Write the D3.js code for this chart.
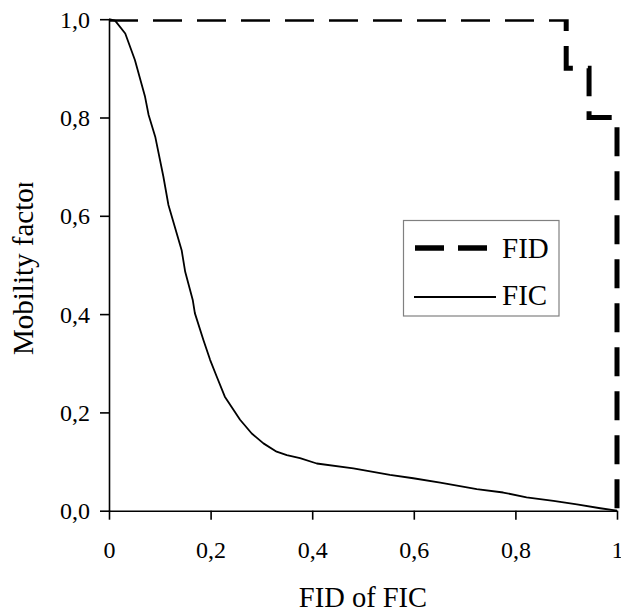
<!DOCTYPE html>
<html>
<head>
<meta charset="utf-8">
<script src="https://cdn.jsdelivr.net/npm/d3@7"></script>
<style>
  html, body { margin: 0; padding: 0; background: #fff; }
  svg { display: block; }
</style>
</head>
<body>
<svg id="chart" width="621" height="614"></svg>
<script>
// ---- data ----
const xTicks = [0, 0.2, 0.4, 0.6, 0.8, 1];
const xTickLabels = ["0", "0,2", "0,4", "0,6", "0,8", "1"];
const yTicks = [0, 0.2, 0.4, 0.6, 0.8, 1.0];
const yTickLabels = ["0,0", "0,2", "0,4", "0,6", "0,8", "1,0"];

const fidX = [0, 0.9, 0.9, 0.945, 0.945, 1.0, 1.0];
const fidY = [1.0, 1.0, 0.9, 0.9, 0.8, 0.8, 0.0];

const ficX = [0, 0.012, 0.032, 0.051, 0.071, 0.078, 0.091, 0.107, 0.117, 0.143, 0.150, 0.165,
              0.169, 0.186, 0.199, 0.212, 0.228, 0.258, 0.281, 0.304, 0.330, 0.350, 0.376,
              0.409, 0.481, 0.553, 0.599, 0.652, 0.724, 0.776, 0.822, 0.875, 0.921, 0.967, 0.993, 1.0];
const ficY = [1.0, 0.997, 0.971, 0.917, 0.842, 0.805, 0.761, 0.680, 0.622, 0.530, 0.486, 0.428,
              0.402, 0.347, 0.307, 0.273, 0.232, 0.185, 0.157, 0.137, 0.120, 0.113, 0.107,
              0.096, 0.086, 0.073, 0.066, 0.057, 0.044, 0.037, 0.027, 0.020, 0.013, 0.005, 0.001, 0.0];

const seriesNames = ["FID", "FIC"];
const xTitle = "FID of FIC";
const yTitle = "Mobility factor";

// ---- drawing ----
const FONT = "'Liberation Serif', 'Times New Roman', serif";
const svg = d3.select("#chart");

const x = d3.scaleLinear().domain([0, 1]).range([109, 617]);
const y = d3.scaleLinear().domain([0, 1]).range([510.7, 19.2]);

// clip for plot area
svg.append("defs").append("clipPath").attr("id", "plotClip")
  .append("rect")
  .attr("x", x(0) - 3).attr("y", y(1))
  .attr("width", x(1) - x(0) + 10).attr("height", y(0) - y(1) + 10);

// axes
const yAxis = d3.axisLeft(y).tickValues(yTicks)
  .tickFormat((d, i) => yTickLabels[i]).tickSize(9).tickSizeOuter(0).tickPadding(10);
const xAxis = d3.axisBottom(x).tickValues(xTicks)
  .tickFormat((d, i) => xTickLabels[i]).tickSize(9).tickSizeOuter(0).tickPadding(21);

const gy = svg.append("g").attr("transform", `translate(${x(0)},0)`).call(yAxis);
const gx = svg.append("g").attr("transform", `translate(0,${y(0)})`).call(xAxis);

[gx, gy].forEach(g => {
  g.select(".domain").attr("stroke", "#000").attr("stroke-width", 1.6);
  g.selectAll(".tick line").attr("stroke", "#000").attr("stroke-width", 1.6);
  g.selectAll(".tick text").attr("font-family", FONT).attr("font-size", 24).attr("fill", "#000");
});
gy.selectAll(".tick text").attr("dy", "0.33em");
gx.selectAll(".tick text").attr("dy", "0.71em");

// series
const ficData = ficX.map((v, i) => [v, ficY[i]]);
const fidData = fidX.map((v, i) => [v, fidY[i]]);
const line = d3.line().x(d => x(d[0])).y(d => y(d[1]));

svg.append("path").datum(ficData)
  .attr("d", line).attr("fill", "none").attr("stroke", "#000")
  .attr("stroke-width", 1.8).attr("stroke-linejoin", "round");

svg.append("g").attr("clip-path", "url(#plotClip)")
  .append("path").datum(fidData)
  .attr("d", line).attr("fill", "none").attr("stroke", "#000")
  .attr("stroke-width", 5).attr("stroke-dasharray", "29,15")
  .attr("stroke-linecap", "butt").attr("stroke-linejoin", "miter");

// legend
const lg = svg.append("g");
lg.append("rect").attr("x", 403.5).attr("y", 220.5).attr("width", 155.5).attr("height", 95.5)
  .attr("fill", "#fff").attr("stroke", "#808080").attr("stroke-width", 1.2);
lg.append("line").attr("x1", 415).attr("x2", 495).attr("y1", 248).attr("y2", 248)
  .attr("stroke", "#000").attr("stroke-width", 5.5).attr("stroke-dasharray", "29,14");
lg.append("line").attr("x1", 414).attr("x2", 496).attr("y1", 297).attr("y2", 297)
  .attr("stroke", "#000").attr("stroke-width", 1.8);
lg.append("text").attr("x", 502).attr("y", 258).text(seriesNames[0])
  .attr("font-family", FONT).attr("font-size", 29).attr("fill", "#000");
lg.append("text").attr("x", 502).attr("y", 305).text(seriesNames[1])
  .attr("font-family", FONT).attr("font-size", 29).attr("fill", "#000");

// x title
svg.append("text").attr("x", 363).attr("y", 607).attr("text-anchor", "middle")
  .attr("font-family", FONT).attr("font-size", 28.5).attr("fill", "#000").text(xTitle);

// y title (clipped at top like the original text box)
const yt0 = 355;
const yClip = svg.select("defs").append("clipPath").attr("id", "yTitleClip");
const ytG = svg.append("g").attr("clip-path", "url(#yTitleClip)");
const yt = ytG.append("text")
  .attr("transform", `translate(33,${yt0}) rotate(-90)`)
  .attr("font-family", FONT).attr("font-size", 29).attr("fill", "#000").text(yTitle);
const len = yt.node().getComputedTextLength();
const clipTop = yt0 - len + 0.13 * 29;
yClip.append("rect").attr("x", 0).attr("y", clipTop).attr("width", 60).attr("height", 614 - clipTop);
</script>
</body>
</html>
